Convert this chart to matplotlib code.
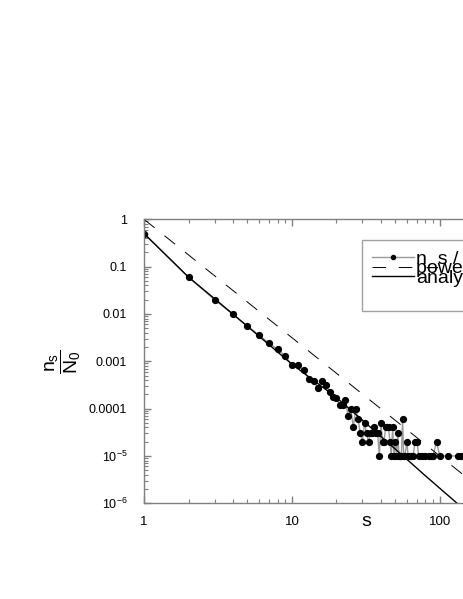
import numpy as np
import matplotlib
matplotlib.use('Agg')
import matplotlib.pyplot as plt
from matplotlib.patches import Rectangle
from matplotlib.ticker import FixedLocator, FixedFormatter, LogLocator, NullFormatter

plt.rcParams['font.family'] = ['Liberation Sans', 'DejaVu Sans']
plt.rcParams['mathtext.fontset'] = 'custom'
plt.rcParams['mathtext.rm'] = 'Liberation Sans'
plt.rcParams['mathtext.it'] = 'Liberation Sans'
plt.rcParams['mathtext.bf'] = 'Liberation Sans:bold'

# measured cluster size distribution n_s / N_0
s_data = [1, 2, 3, 4, 5, 6, 7, 8, 9, 10,
          11, 12, 13, 14, 15, 16, 17, 18, 19, 20,
          21, 22, 23, 24, 25, 26, 27, 28, 29, 30,
          31, 32, 33, 34, 35, 36, 37, 38, 39, 40,
          41, 42, 43, 44, 45, 46, 47, 48, 49, 50,
          51, 52, 53, 54, 55, 56, 57, 58, 60, 61,
          63, 64, 66, 68, 70, 72, 76, 79, 84, 87,
          90, 95, 100, 113, 133, 140]
ns_data = [0.5, 0.06, 0.02, 0.0098, 0.0055, 0.0036, 0.0024, 0.0018, 0.0013, 0.00083,
           0.00082, 0.00064, 0.00042, 0.00038, 0.00027, 0.00038, 0.00032, 0.00022, 0.00018, 0.00017,
           12e-5, 12e-5, 15e-5, 7e-5, 10e-5, 4e-5, 10e-5, 6e-5, 3e-5, 2e-5,
           5e-5, 3e-5, 2e-5, 3e-5, 3e-5, 4e-5, 3e-5, 3e-5, 1e-5, 5e-5,
           2e-5, 2e-5, 4e-5, 4e-5, 4e-5, 2e-5, 1e-5, 4e-5, 1e-5, 2e-5,
           1e-5, 3e-5, 1e-5, 1e-5, 1e-5, 6e-5, 1e-5, 1e-5, 2e-5, 1e-5,
           1e-5, 1e-5, 1e-5, 2e-5, 2e-5, 1e-5, 1e-5, 1e-5, 1e-5, 1e-5,
           1e-5, 2e-5, 1e-5, 1e-5, 1e-5, 1e-5]

# power law guide (slope -5/2 from 1 at s=1)
s_power = [1, 1000]
ns_power = [1.0, 3.16e-8]

# analytic curve
s_analytic = [1, 2, 3, 5, 10, 20, 30, 50, 80, 131, 200]
ns_analytic = [0.5, 0.06, 0.021, 0.0055, 0.00087, 0.000172, 5.7e-5, 1.4e-5, 3.8e-6, 1e-6, 3.0e-7]

yticks = [1e-6, 1e-5, 1e-4, 1e-3, 1e-2, 1e-1, 1]
ytick_labels = [r'$10^{-6}$', r'$10^{-5}$', '0.0001', '0.001', '0.01', '0.1', '1']
xticks = [1, 10, 100]
xtick_labels = ['1', '10', '100']

W, H = 463, 599
fig = plt.figure(figsize=(W / 100, H / 100), dpi=100)
ax = fig.add_axes([144 / W, 1 - 503.3 / H, 443.7 / W, 284 / H])

ax.plot(s_data, ns_data, color='#999999', lw=1.0, marker='o', ms=4.2,
        mfc='black', mec='black', label='n_s / N_0')
ax.plot(s_power, ns_power, color='black', lw=0.7, ls=(0, (14, 13)), label='power law')
ax.plot(s_analytic, ns_analytic, color='black', lw=1.0, label='analytic')

ax.set_xscale('log')
ax.set_yscale('log')
ax.set_xlim(1, 1000)
ax.set_ylim(1e-6, 1)

ax.yaxis.set_major_locator(FixedLocator(yticks))
ax.yaxis.set_major_formatter(FixedFormatter(ytick_labels))
ax.xaxis.set_major_locator(FixedLocator(xticks))
ax.xaxis.set_major_formatter(FixedFormatter(xtick_labels))
ax.xaxis.set_minor_locator(LogLocator(base=10, subs=np.arange(2, 10)))
ax.yaxis.set_minor_locator(LogLocator(base=10, subs=np.arange(2, 10)))
ax.xaxis.set_minor_formatter(NullFormatter())
ax.yaxis.set_minor_formatter(NullFormatter())

spine_col = '#808080'
for sp in ax.spines.values():
    sp.set_color(spine_col)
    sp.set_linewidth(1.0)
ax.tick_params(which='both', direction='in', top=True, right=True, color=spine_col)
ax.tick_params(which='major', length=5, width=1)
ax.tick_params(which='minor', length=3, width=0.8)
ax.tick_params(axis='y', which='major', pad=12, labelsize=9)
ax.tick_params(axis='x', which='major', pad=9, labelsize=9.5)

ax.set_xlabel('s', fontsize=14)
ax.xaxis.set_label_coords(0.5, -0.065)
ax.xaxis.label.set_verticalalignment('center')

fig.text(63 / W, 1 - 362 / H, r'$\dfrac{n_s}{N_0}$', rotation=90, fontsize=14,
         ha='center', va='center')

# legend box drawn separately: the original frame is taller than its rows
box = Rectangle((362 / W, 1 - 311 / H), 240 / W, 71 / H, transform=fig.transFigure,
                facecolor='white', edgecolor='#a0a0a0', lw=1.0, zorder=4, clip_on=False)
ax.add_artist(box)
leg = ax.legend(loc='upper left', bbox_to_anchor=(362 / W, 1 - 240 / H),
                bbox_transform=fig.transFigure, borderaxespad=0, fontsize=14,
                handlelength=2.15, handletextpad=0.15, labelspacing=-0.40,
                borderpad=0.5, frameon=False, markerscale=0.7)
leg.set_zorder(5)

fig.savefig('out.png', dpi=100)
